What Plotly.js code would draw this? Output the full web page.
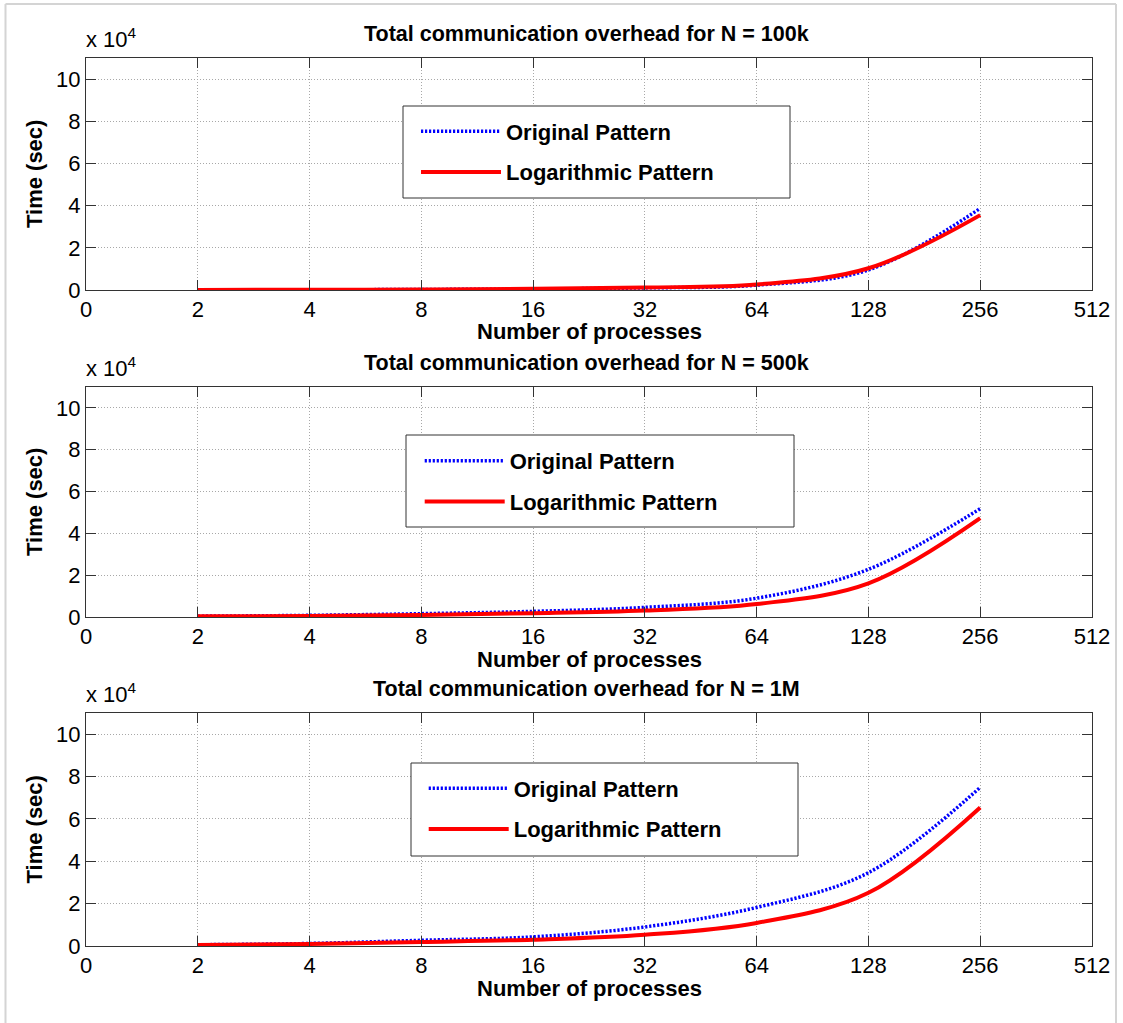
<!DOCTYPE html>
<html>
<head>
<meta charset="utf-8">
<script src="https://cdn.plot.ly/plotly-3.0.1.min.js"></script>
<style>
  html, body { margin: 0; padding: 0; background: #ffffff; }
  #chart { width: 1123px; height: 1023px; }
</style>
</head>
<body>
<div id="chart"></div>
<script>
// ---------- data ----------
const processes = [2, 4, 8, 16, 32, 64, 128, 256];
const xTickVals = [1, 2, 4, 8, 16, 32, 64, 128, 256, 512];
const xTickText = ['0', '2', '4', '8', '16', '32', '64', '128', '256', '512'];
const yTickVals = [0, 20000, 40000, 60000, 80000, 100000];
const yTickText = ['0', '2', '4', '6', '8', '10'];
const panelTitles = [
  'Total communication overhead for N = 100k',
  'Total communication overhead for N = 500k',
  'Total communication overhead for N = 1M'
];
const seriesNames = ['Original Pattern', 'Logarithmic Pattern'];
const xTitle = 'Number of processes';
const yTitle = 'Time (sec)';

// Time (sec)
const original100k    = [50, 100, 250, 500, 1000, 2300, 9500, 38700];
const logarithmic100k = [50, 100, 250, 550, 1200, 2600, 10300, 35500];
const original500k    = [400, 800, 1600, 2700, 4600, 9000, 22800, 51800];
const logarithmic500k = [300, 500, 1000, 1800, 3100, 6200, 16100, 47300];
const original1M      = [600, 1200, 2700, 4300, 9000, 18200, 34600, 74900];
const logarithmic1M   = [500, 1000, 1900, 3000, 5300, 10900, 25100, 65400];

const panels = [
  [original100k, logarithmic100k],
  [original500k, logarithmic500k],
  [original1M, logarithmic1M]
];

// ---------- styling ----------
const FONT = 'Liberation Sans, Arial, Helvetica, sans-serif';
const AXC = '#333333';
const GRIDC = '#a8a8a8';

// pixel geometry helpers (plot area: x 86..1092, y 58..946)
const L = 86, R = 1092, T = 58, B = 946;
const px = v => (v - L) / (R - L);
const py = v => (B - v) / (B - T);

const panelDomains = [[py(290), py(58)], [py(617), py(387)], [py(946), py(713)]];
const panelBottoms = [290, 617, 946];
const panelTops = [58, 387, 713];
const legendBoxes = [
  [403, 106, 790, 198],
  [406, 435, 794, 527],
  [411, 763, 798, 856]
];
const legendPos = [[416, 110.5], [419.7, 440], [423.7, 767.5]];

const traces = [];
panels.forEach((pair, i) => {
  const sfx = i === 0 ? '' : String(i + 1);
  const legendId = 'legend' + sfx;
  traces.push({
    x: processes, y: pair[0], type: 'scatter', mode: 'lines',
    name: '<b>' + seriesNames[0] + '</b>',
    xaxis: 'x' + sfx, yaxis: 'y' + sfx, legend: legendId,
    legendgroup: 'o' + i,
    line: { color: '#0000ff', width: 3.5, dash: '2.2px,1.8px', shape: 'spline', smoothing: 1 },
    hoverinfo: 'skip'
  });
  traces.push({
    x: processes, y: pair[1], type: 'scatter', mode: 'lines',
    name: '<b>' + seriesNames[1] + '</b>',
    xaxis: 'x' + sfx, yaxis: 'y' + sfx, legend: legendId,
    legendgroup: 'l' + i,
    line: { color: '#ff0000', width: 4, shape: 'spline', smoothing: 1 },
    hoverinfo: 'skip'
  });
});

const layout = {
  width: 1123, height: 1023,
  margin: { l: L, r: 1123 - R, t: T, b: 1023 - B, pad: 0 },
  paper_bgcolor: '#ffffff', plot_bgcolor: '#ffffff',
  font: { family: FONT, size: 22, color: '#000000' },
  showlegend: true,
  annotations: [],
  shapes: []
};

panels.forEach((pair, i) => {
  const sfx = i === 0 ? '' : String(i + 1);
  layout['xaxis' + sfx] = {
    type: 'log', range: [0, Math.log10(512)], domain: [0, 1],
    anchor: 'y' + sfx,
    tickmode: 'array', tickvals: xTickVals, ticktext: xTickText,
    ticks: 'inside', ticklen: 10, tickwidth: 1, tickcolor: AXC,
    showline: true, mirror: 'ticks', linecolor: AXC, linewidth: 1,
    showgrid: true, gridcolor: GRIDC, gridwidth: 1, griddash: '1px,2px',
    zeroline: false, fixedrange: true,
    tickfont: { family: FONT, size: 22, color: '#000' }
  };
  layout['yaxis' + sfx] = {
    range: [0, 110000], domain: panelDomains[i],
    anchor: 'x' + sfx,
    tickmode: 'array', tickvals: yTickVals, ticktext: yTickText,
    ticks: 'inside', ticklen: 10, tickwidth: 1, tickcolor: AXC,
    showline: true, mirror: 'ticks', linecolor: AXC, linewidth: 1,
    showgrid: true, gridcolor: GRIDC, gridwidth: 1, griddash: '1px,2px',
    zeroline: false, fixedrange: true,
    tickfont: { family: FONT, size: 22, color: '#000' }
  };
  const lp = legendPos[i];
  layout['legend' + sfx] = {
    x: px(lp[0]), y: py(lp[1]), xanchor: 'left', yanchor: 'top',
    bgcolor: 'rgba(0,0,0,0)', borderwidth: 0,
    itemwidth: 80, tracegroupgap: 9, traceorder: 'grouped',
    font: { family: FONT, size: 22, color: '#000' },
    itemclick: false, itemdoubleclick: false
  };
  // legend box
  const lb = legendBoxes[i];
  layout.shapes.push({
    type: 'rect', xref: 'paper', yref: 'paper', layer: 'above',
    x0: px(lb[0]), x1: px(lb[2]), y0: py(lb[3]), y1: py(lb[1]),
    fillcolor: '#ffffff', line: { color: AXC, width: 1 }
  });
  // panel title
  layout.annotations.push({
    xref: 'paper', yref: 'paper', x: px(586), y: py(panelTops[i] - 24),
    xanchor: 'center', yanchor: 'middle', showarrow: false,
    text: '<b>' + panelTitles[i] + '</b>',
    font: { family: FONT, size: 21.5, color: '#000' }
  });
  // exponent label
  layout.annotations.push({
    xref: 'paper', yref: 'paper', x: px(L - 2), y: py(panelTops[i] - 4),
    xanchor: 'left', yanchor: 'bottom', showarrow: false,
    text: 'x 10<sup>4</sup>',
    font: { family: FONT, size: 22, color: '#000' }
  });
  // y title
  layout.annotations.push({
    xref: 'paper', yref: 'paper', x: px(34), y: py((panelTops[i] + panelBottoms[i]) / 2),
    xanchor: 'center', yanchor: 'middle', showarrow: false, textangle: -90,
    text: '<b>' + yTitle + '</b>',
    font: { family: FONT, size: 22, color: '#000' }
  });
  // x title
  layout.annotations.push({
    xref: 'paper', yref: 'paper', x: 0.5, y: py(panelBottoms[i] + 42),
    xanchor: 'center', yanchor: 'middle', showarrow: false,
    text: '<b>' + xTitle + '</b>',
    font: { family: FONT, size: 22, color: '#000' }
  });
});

// outer light frame
layout.shapes.push(
  { type: 'line', xref: 'paper', yref: 'paper', layer: 'above',
    x0: px(5.5), x1: px(5.5), y0: py(4), y1: py(1030), line: { color: '#d4d4d4', width: 2 } },
  { type: 'line', xref: 'paper', yref: 'paper', layer: 'above',
    x0: px(5.5), x1: px(1116), y0: py(4), y1: py(4), line: { color: '#d4d4d4', width: 2 } },
  { type: 'line', xref: 'paper', yref: 'paper', layer: 'above',
    x0: px(1116), x1: px(1116), y0: py(4), y1: py(1030), line: { color: '#d4d4d4', width: 2 } }
);

Plotly.newPlot('chart', traces, layout, { displayModeBar: false, staticPlot: true });
</script>
</body>
</html>
